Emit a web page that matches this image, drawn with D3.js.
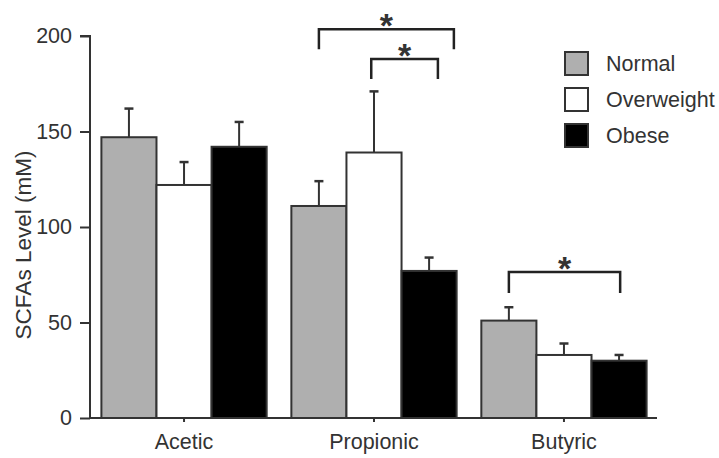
<!DOCTYPE html>
<html>
<head>
<meta charset="utf-8">
<script src="https://cdn.jsdelivr.net/npm/d3@7"></script>
<style>
  html, body { margin: 0; padding: 0; background: #fff; }
  svg text { font-family: "Liberation Sans", Arial, sans-serif; fill: #333; }
</style>
</head>
<body>
<svg id="chart" width="719" height="458"></svg>
<script>
// ---- data ----
const categories = ["Acetic", "Propionic", "Butyric"];
const seriesNames = ["Normal", "Overweight", "Obese"];
const normalVals = [147, 111, 51];
const overweightVals = [122, 139, 33];
const obeseVals = [142, 77, 30];
const normalErr = [15, 13, 7];
const overweightErr = [12, 32, 6];
const obeseErr = [13, 7, 3];
const yTicks = [0, 50, 100, 150, 200];
const yLabel = "SCFAs Level (mM)";
// significance brackets: category, from series (+fraction across bar), to series (+fraction), level, tip
const brackets = [
  { cat: "Propionic", from: "Normal", fromFrac: 0.5, to: "Obese", toFrac: 0.95, level: 203.5, tip: 193 },
  { cat: "Propionic", from: "Overweight", fromFrac: 0.45, to: "Obese", toFrac: 0.66, level: 188, tip: 177.5 },
  { cat: "Butyric", from: "Normal", fromFrac: 0.5, to: "Obese", toFrac: 0.52, level: 76.5, tip: 65.5 }
];

const fills = { Normal: "#afafaf", Overweight: "#ffffff", Obese: "#000000" };
const valuesBySeries = { Normal: normalVals, Overweight: overweightVals, Obese: obeseVals };
const errBySeries = { Normal: normalErr, Overweight: overweightErr, Obese: obeseErr };

const svg = d3.select("#chart");
const x0 = d3.scaleBand().domain(categories).range([90, 658]).paddingInner(0.13).paddingOuter(0.06);
const x1 = d3.scaleBand().domain(seriesNames).range([0, x0.bandwidth()]);
const y = d3.scaleLinear().domain([0, 200]).range([418, 36]);

const rows = [];
categories.forEach((c, i) => {
  seriesNames.forEach(s => rows.push({ cat: c, series: s, v: valuesBySeries[s][i], e: errBySeries[s][i] }));
});

const lineColor = "#333";

// error bars (upper only), drawn before bars
const eg = svg.append("g");
rows.forEach(d => {
  const cx = x0(d.cat) + x1(d.series) + x1.bandwidth() / 2;
  eg.append("line").attr("x1", cx).attr("x2", cx).attr("y1", y(d.v)).attr("y2", y(d.v + d.e))
    .attr("stroke", lineColor).attr("stroke-width", 2);
  eg.append("line").attr("x1", cx - 4.5).attr("x2", cx + 4.5).attr("y1", y(d.v + d.e)).attr("y2", y(d.v + d.e))
    .attr("stroke", lineColor).attr("stroke-width", 2.5);
});

// bars
svg.append("g").selectAll("rect").data(rows).join("rect")
  .attr("x", d => x0(d.cat) + x1(d.series))
  .attr("y", d => y(d.v))
  .attr("width", x1.bandwidth())
  .attr("height", d => y(0) - y(d.v))
  .attr("fill", d => fills[d.series])
  .attr("stroke", lineColor)
  .attr("stroke-width", 2);

// y axis
const yAxis = svg.append("g").attr("transform", "translate(90,0)")
  .call(d3.axisLeft(y).tickValues(yTicks).tickSize(10).tickPadding(8));
yAxis.select(".domain").attr("stroke", lineColor).attr("stroke-width", 2).attr("d", `M-10,${y(200)}H0V${y(0)}`);
yAxis.selectAll(".tick line").attr("stroke", lineColor).attr("stroke-width", 2);
yAxis.selectAll(".tick text").attr("font-size", 21.5).attr("fill", "#333").style("font-family", "Liberation Sans, Arial, sans-serif");

// x axis
const xAxis = svg.append("g").attr("transform", `translate(0,${y(0)})`)
  .call(d3.axisBottom(x0).tickSize(4).tickPadding(12));
xAxis.select(".domain").attr("stroke", lineColor).attr("stroke-width", 2).attr("d", `M90,0H657`);
xAxis.selectAll(".tick line").attr("stroke", lineColor).attr("stroke-width", 2);
xAxis.selectAll(".tick text").attr("font-size", 21.5).attr("fill", "#333").style("font-family", "Liberation Sans, Arial, sans-serif");

// y label
svg.append("text")
  .attr("transform", `translate(31,245) rotate(-90)`)
  .attr("text-anchor", "middle")
  .attr("font-size", 22.5)
  .text(yLabel);

// brackets
brackets.forEach(b => {
  const xa = x0(b.cat) + x1(b.from) + x1.bandwidth() * b.fromFrac;
  const xb = x0(b.cat) + x1(b.to) + x1.bandwidth() * b.toFrac;
  svg.append("path")
    .attr("d", `M${xa},${y(b.tip)}V${y(b.level)}H${xb}V${y(b.tip)}`)
    .attr("fill", "none").attr("stroke", "#222").attr("stroke-width", 2.5);
  svg.append("text")
    .attr("x", (xa + xb) / 2).attr("y", y(b.level) + 8)
    .attr("text-anchor", "middle").attr("font-size", 34).attr("font-weight", "bold").attr("fill", "#222")
    .text("*");
});

// legend
const lg = svg.append("g").attr("transform", "translate(565,52)");
seriesNames.forEach((s, i) => {
  const g = lg.append("g").attr("transform", `translate(0,${i * 36})`);
  g.append("rect").attr("width", 23).attr("height", 23)
    .attr("fill", fills[s]).attr("stroke", lineColor).attr("stroke-width", 2);
  g.append("text").attr("x", 41).attr("y", 11.5).attr("dy", "0.35em")
    .attr("font-size", 21.5).text(s);
});
</script>
</body>
</html>
